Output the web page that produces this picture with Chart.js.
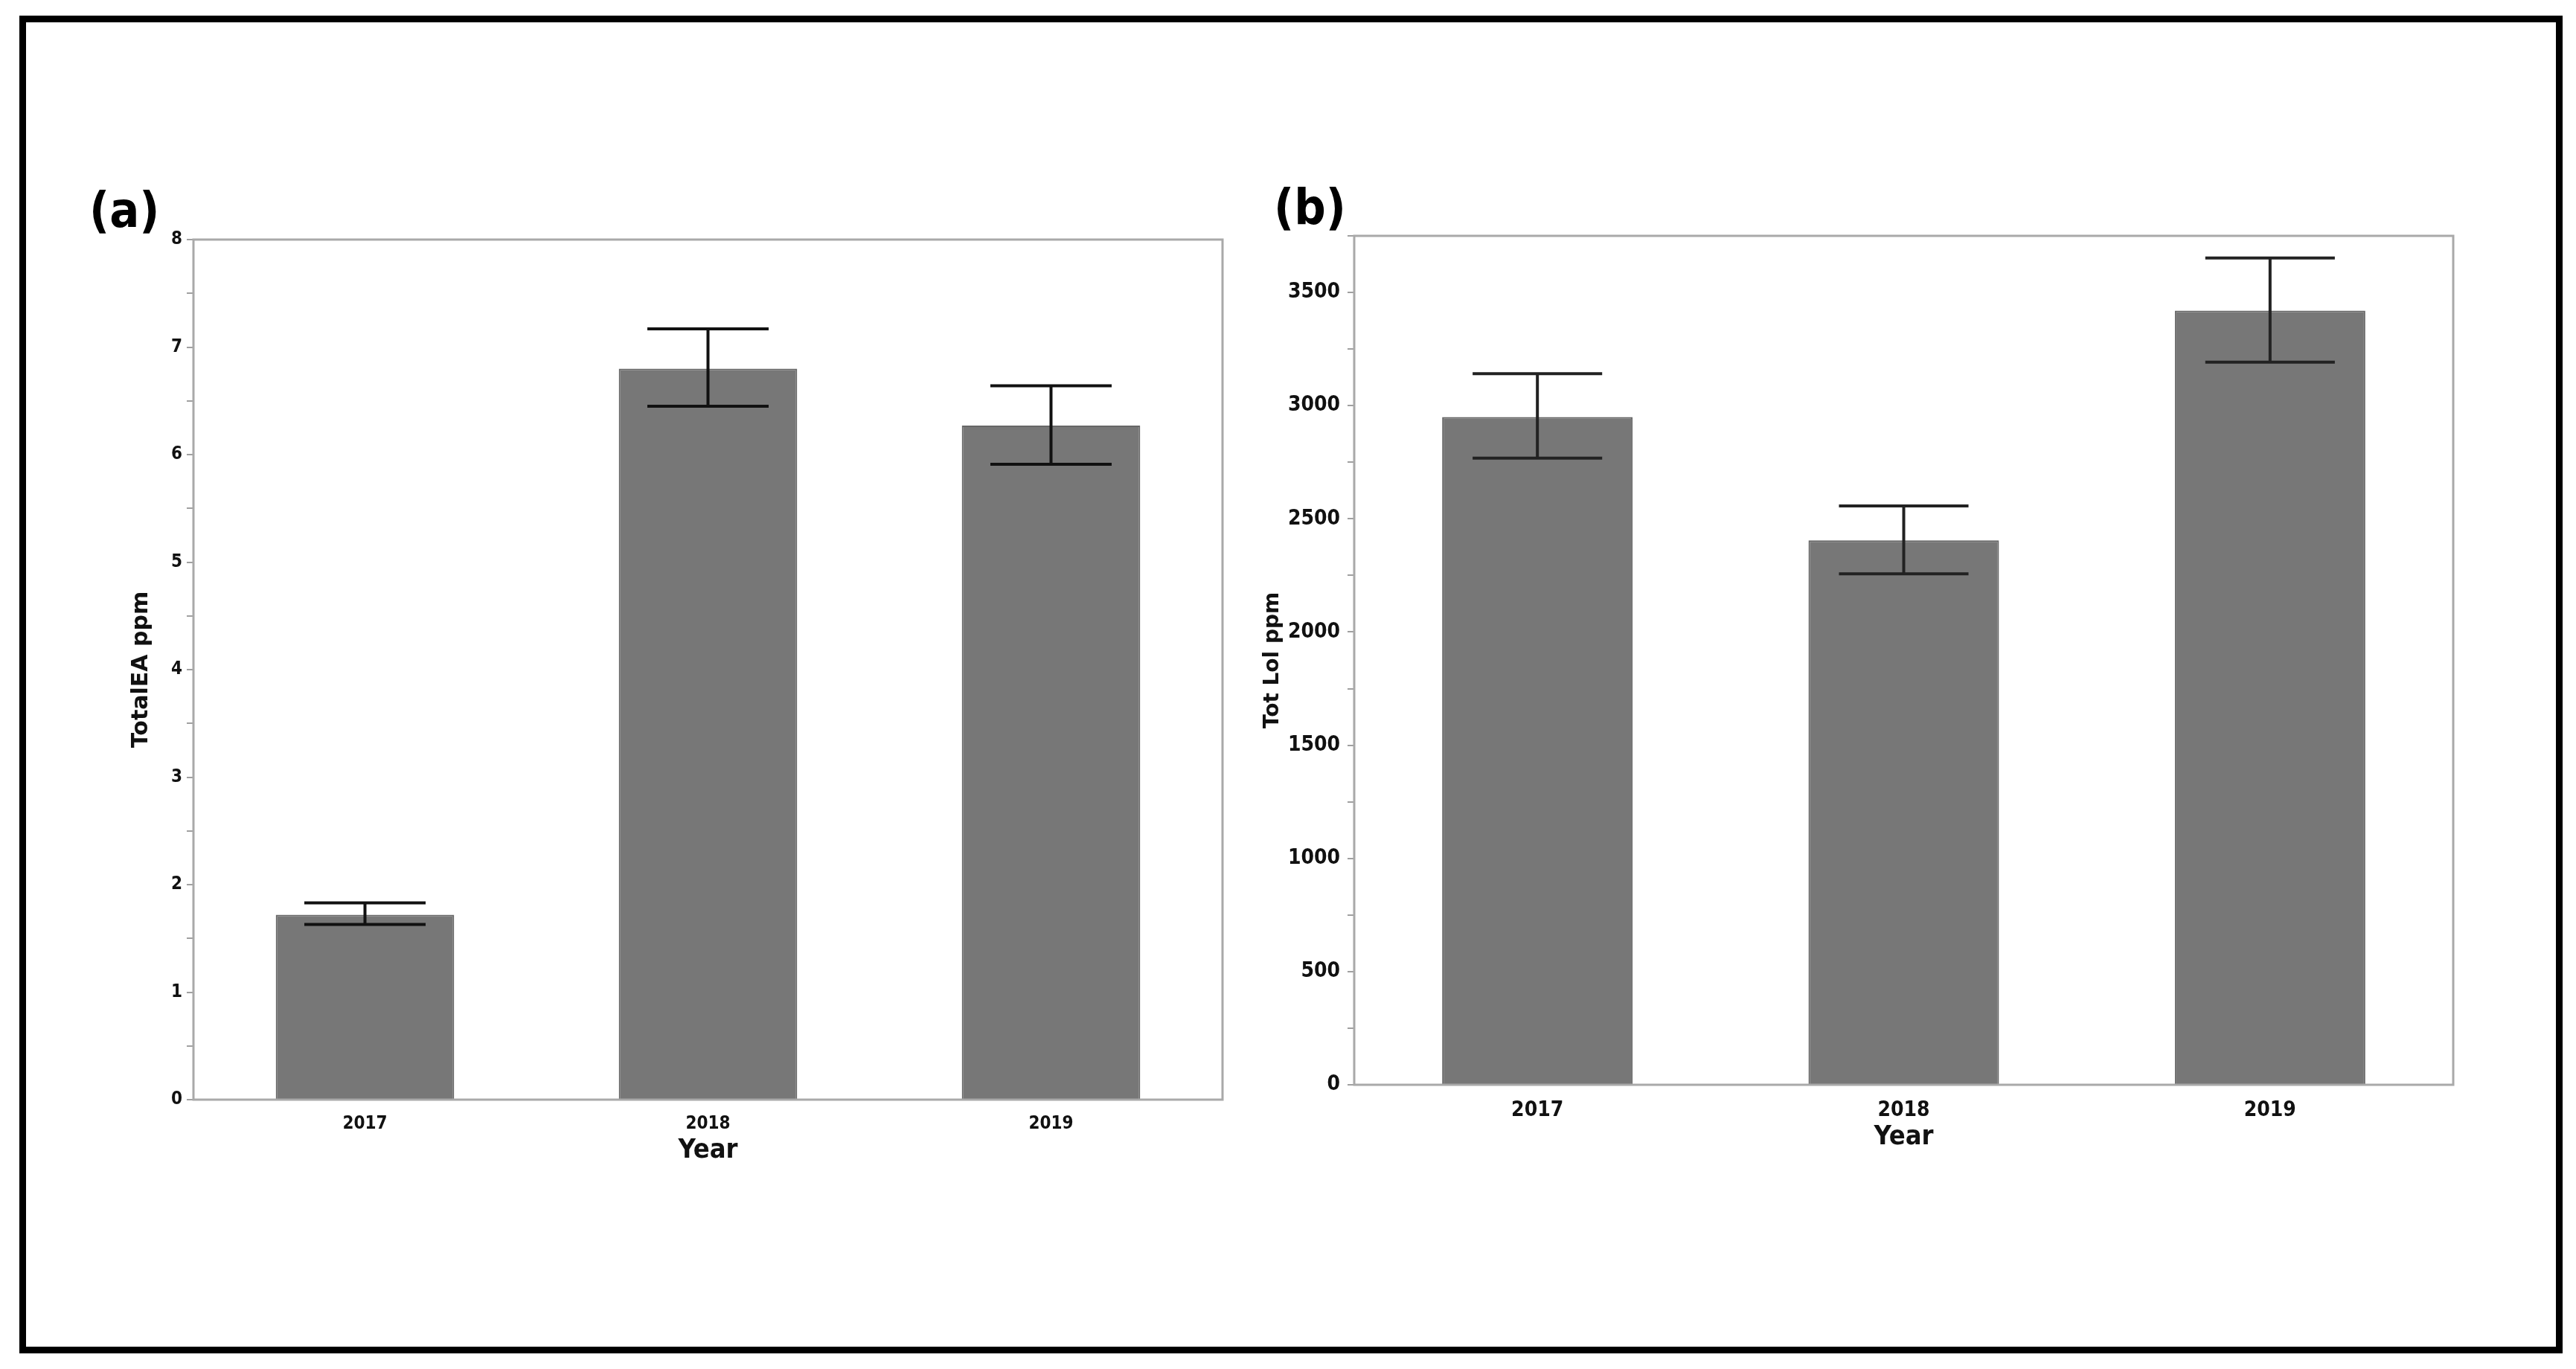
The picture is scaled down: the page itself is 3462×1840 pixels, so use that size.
<!DOCTYPE html>
<html>
<head>
<meta charset="utf-8">
<script src="https://cdn.jsdelivr.net/npm/chart.js@4.4.1/dist/chart.umd.min.js"></script>
<style>
  html, body { margin:0; padding:0; background:#fff; }
  body { width:3462px; height:1840px; position:relative; overflow:hidden; }
  #frame { position:absolute; left:26px; top:21px; width:3400px; height:1780px; border:9px solid #000; }
  .panel-label { position:absolute; font-family:'Liberation Sans Narrow','DejaVu Sans Condensed',sans-serif; font-weight:bold; font-size:66px; color:#000; line-height:1; }
  canvas { position:absolute; }
</style>
</head>
<body>
<div id="frame"></div>
<div class="panel-label" style="left:120px; top:250px;">(a)</div>
<div class="panel-label" style="left:1712px; top:246px;">(b)</div>
<canvas id="ca" style="left:120px; top:300px;"></canvas>
<canvas id="cb" style="left:1600px; top:290px;"></canvas>
<script>
// ---- data ----
const years = ['2017', '2018', '2019'];
const eaMean = [1.72, 6.80, 6.27];
const eaLow  = [1.63, 6.45, 5.91];
const eaHigh = [1.83, 7.17, 6.64];
const lolMean = [2950, 2405, 3420];
const lolLow  = [2768, 2257, 3192];
const lolHigh = [3141, 2557, 3652];
const eaAxis = { min: 0, max: 8, step: 0.5, labelEvery: 1 };
const lolAxis = { min: 0, max: 3750, step: 250, labelEvery: 500 };

const NARROW = "'Liberation Sans Narrow','DejaVu Sans Condensed',sans-serif";

const framePlugin = {
  id: 'frameBox',
  afterDatasetsDraw(chart) {
    const a = chart.chartArea, ctx = chart.ctx;
    ctx.save();
    ctx.strokeStyle = '#a9a9a9';
    ctx.lineWidth = 3;
    ctx.strokeRect(a.left, a.top, a.right - a.left, a.bottom - a.top);
    ctx.restore();
  }
};

const errorPlugin = {
  id: 'errBars',
  afterDatasetsDraw(chart, args, opts) {
    const meta = chart.getDatasetMeta(0);
    const ys = chart.scales.y;
    const ctx = chart.ctx;
    ctx.save();
    ctx.strokeStyle = opts.color;
    ctx.lineWidth = opts.width;
    ctx.lineCap = 'butt';
    meta.data.forEach((bar, i) => {
      const x = bar.x;
      const half = bar.width * opts.capRatio / 2;
      const yl = ys.getPixelForValue(opts.low[i]);
      const yh = ys.getPixelForValue(opts.high[i]);
      ctx.beginPath();
      ctx.moveTo(x, yl); ctx.lineTo(x, yh);
      ctx.moveTo(x - half, yh); ctx.lineTo(x + half, yh);
      ctx.moveTo(x - half, yl); ctx.lineTo(x + half, yl);
      ctx.stroke();
    });
    ctx.restore();
  }
};

function makeChart(id, w, h, cfg) {
  const cv = document.getElementById(id);
  cv.width = w; cv.height = h;
  cv.style.width = w + 'px'; cv.style.height = h + 'px';
  return new Chart(cv, {
    type: 'bar',
    data: {
      labels: years,
      datasets: [{
        data: cfg.values,
        backgroundColor: '#777777',
        borderColor: '#666666',
        borderWidth: 2,
        categoryPercentage: 1.0,
        barPercentage: 0.52
      }]
    },
    options: {
      responsive: false,
      animation: false,
      devicePixelRatio: 1,
      layout: { padding: cfg.padding },
      plugins: {
        legend: { display: false },
        tooltip: { enabled: false },
        errBars: { low: cfg.low, high: cfg.high, color: cfg.errColor, width: cfg.errWidth, capRatio: 0.68 }
      },
      scales: {
        x: {
          grid: { display: false },
          border: { display: false },
          ticks: { color: '#111', padding: cfg.xTickPad, font: { family: NARROW, weight: 'bold', size: cfg.tickSize } },
          title: { display: true, text: 'Year', color: '#111', padding: { top: 0, bottom: cfg.yearPadBottom },
                   font: { family: NARROW, weight: 'bold', size: cfg.yearSize } },
          afterFit(s) { s.height = cfg.xAxisH; }
        },
        y: {
          min: cfg.axis.min, max: cfg.axis.max,
          grid: { drawOnChartArea: false, drawTicks: true, tickLength: 9, color: '#a0a0a0', lineWidth: 2 },
          border: { display: false },
          ticks: {
            stepSize: cfg.axis.step, autoSkip: false, padding: cfg.yTickPad, color: '#111',
            font: { family: NARROW, weight: 'bold', size: cfg.tickSize },
            callback: (v) => (Math.abs(v / cfg.axis.labelEvery - Math.round(v / cfg.axis.labelEvery)) < 1e-9 ? String(v) : '')
          },
          title: { display: true, text: cfg.yTitle, color: '#111', padding: { top: cfg.yTitlePad, bottom: 0 },
                   font: { family: "'DejaVu Sans',sans-serif", weight: 'bold', size: cfg.yTitleSize } },
          afterFit(s) { s.width = cfg.yAxisW; }
        }
      }
    },
    plugins: [framePlugin, errorPlugin]
  });
}

// panel (a): plot area x 260..1643, y 322..1478
makeChart('ca', 1543, 1298, {
  values: eaMean, low: eaLow, high: eaHigh, axis: eaAxis,
  yTitle: 'TotalEA ppm', yTitleSize: 30, yTitlePad: 52,
  tickSize: 24, yTickPad: 6, yearSize: 36, xTickPad: 10, yearPadBottom: 30,
  padding: { top: 22, right: 20, bottom: 0, left: 0 },
  yAxisW: 140, xAxisH: 120, errColor: '#111', errWidth: 4
});

// panel (b): plot area x 1820..3307, y 317..1458
makeChart('cb', 1727, 1298, {
  values: lolMean, low: lolLow, high: lolHigh, axis: lolAxis,
  yTitle: 'Tot Lol ppm', yTitleSize: 28, yTitlePad: 94,
  tickSize: 28, yTickPad: 10, yearSize: 36, xTickPad: 10, yearPadBottom: 38,
  padding: { top: 27, right: 30, bottom: 0, left: 0 },
  yAxisW: 220, xAxisH: 130, errColor: '#222', errWidth: 4
});
</script>
</body>
</html>
